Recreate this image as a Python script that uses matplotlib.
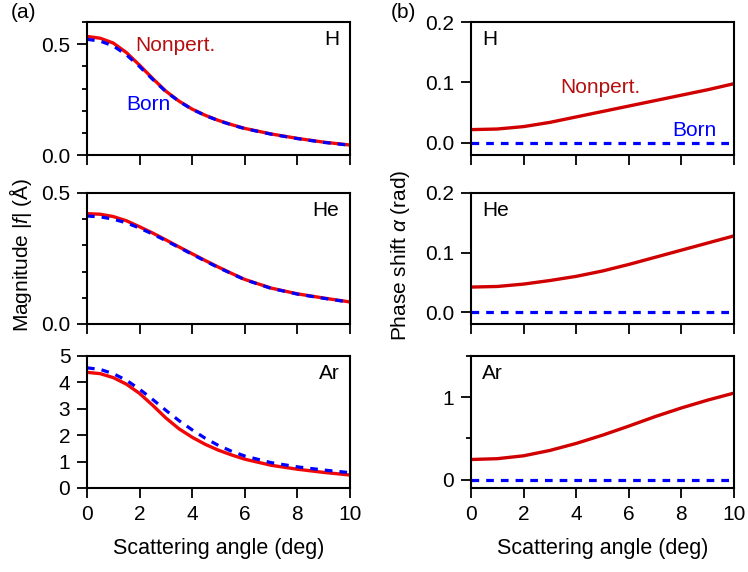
import numpy as np
import matplotlib
matplotlib.use('Agg')
import matplotlib.pyplot as plt
from matplotlib.ticker import MultipleLocator

plt.rcParams['font.family'] = ['Liberation Sans', 'DejaVu Sans']
plt.rcParams['mathtext.fontset'] = 'custom'
plt.rcParams['mathtext.rm'] = 'Liberation Sans'
plt.rcParams['mathtext.it'] = 'Liberation Sans:italic'
plt.rcParams['font.size'] = 15

# scattering angle (deg), finer near the forward peak for the magnitudes
angle_mag = [0, 0.5, 1, 1.5, 2, 2.5, 3, 3.5, 4, 4.5, 5, 5.5, 6, 7, 8, 9, 10]
angle = [0, 1, 2, 3, 4, 5, 6, 7, 8, 9, 10]

# magnitude |f| (Angstrom)
h_mag_nonpert = [0.535, 0.527, 0.505, 0.462, 0.405, 0.345, 0.288, 0.243, 0.207, 0.179, 0.156,
                 0.137, 0.12, 0.095, 0.075, 0.058, 0.045]
h_mag_born = [0.522, 0.514, 0.492, 0.452, 0.399, 0.341, 0.286, 0.242, 0.206, 0.178, 0.155,
              0.136, 0.119, 0.094, 0.074, 0.057, 0.044]
he_mag_nonpert = [0.421, 0.419, 0.41, 0.394, 0.371, 0.347, 0.321, 0.294, 0.268, 0.242, 0.217,
                  0.193, 0.17, 0.137, 0.115, 0.099, 0.084]
he_mag_born = [0.412, 0.409, 0.4, 0.386, 0.366, 0.343, 0.318, 0.292, 0.266, 0.24, 0.215,
               0.192, 0.169, 0.136, 0.114, 0.098, 0.083]
ar_mag_nonpert = [4.38, 4.33, 4.18, 3.93, 3.58, 3.13, 2.65, 2.24, 1.92, 1.65, 1.43,
                  1.25, 1.09, 0.86, 0.71, 0.59, 0.49]
ar_mag_born = [4.55, 4.49, 4.33, 4.08, 3.74, 3.35, 2.94, 2.55, 2.2, 1.88, 1.61,
               1.39, 1.21, 0.96, 0.8, 0.68, 0.58]

# phase shift alpha (rad); Born phase is zero
h_phase = [0.022, 0.023, 0.027, 0.034, 0.043, 0.052, 0.061, 0.07, 0.079, 0.088, 0.098]
he_phase = [0.042, 0.043, 0.047, 0.053, 0.06, 0.069, 0.08, 0.092, 0.104, 0.116, 0.128]
ar_phase = [0.245, 0.255, 0.29, 0.355, 0.44, 0.54, 0.65, 0.765, 0.87, 0.965, 1.05]
born_phase = [0.0] * len(angle)

atoms = ['H', 'He', 'Ar']
mags = [(h_mag_nonpert, h_mag_born), (he_mag_nonpert, he_mag_born), (ar_mag_nonpert, ar_mag_born)]
phases = [h_phase, he_phase, ar_phase]

mag_ylim = [(0, 0.6), (0, 0.5), (0, 5)]
mag_major = [0.5, 0.5, 1]
mag_minor = [0.1, 0.1, 1]
phase_ylim = [(-0.02, 0.2), (-0.02, 0.2), (-0.1, 1.5)]
phase_major = [0.1, 0.1, 1]
phase_minor = [0.1, 0.1, 0.5]

red_left = '#f00808'
red_right = '#d00000'
text_red = '#b51010'
blue = '#0000ff'
dash = (0, (2.4, 2.2))

fig = plt.figure(figsize=(7.48, 5.72), dpi=100)

rows = [(0.729, 0.2325), (0.4336, 0.229), (0.1469, 0.2308)]
left_x, right_x, width = 0.1163, 0.6297, 0.3516


def style(ax, last):
    ax.set_xlim(0, 10)
    ax.xaxis.set_major_locator(MultipleLocator(2))
    ax.tick_params(which='major', length=7, width=1.3, direction='out', labelsize=15, pad=5)
    ax.tick_params(which='minor', length=3.6, width=1.3, direction='out')
    for s in ax.spines.values():
        s.set_linewidth(1.5)
    if not last:
        ax.tick_params(axis='x', labelbottom=False)
    else:
        ax.set_xlabel('Scattering angle (deg)', fontsize=15.5, labelpad=10)


for i, atom in enumerate(atoms):
    bottom, height = rows[i]
    last = i == 2

    ax = fig.add_axes([left_x, bottom, width, height])
    nonpert, born = mags[i]
    ax.plot(angle_mag, nonpert, color=red_left, lw=2.4)
    ax.plot(angle_mag, born, color=blue, lw=2.3, linestyle=dash)
    ax.set_ylim(*mag_ylim[i])
    ax.yaxis.set_major_locator(MultipleLocator(mag_major[i]))
    ax.yaxis.set_minor_locator(MultipleLocator(mag_minor[i]))
    if mag_major[i] < 1:
        ax.yaxis.set_major_formatter('{x:.1f}')
    style(ax, last)
    ax.text(0.96, 0.87, atom, transform=ax.transAxes, ha='right', va='center', fontsize=15)
    if i == 0:
        ax.text(0.183, 0.827, 'Nonpert.', transform=ax.transAxes, color=text_red,
                ha='left', va='center', fontsize=15)
        ax.text(0.148, 0.383, 'Born', transform=ax.transAxes, color=blue,
                ha='left', va='center', fontsize=15)

    ax = fig.add_axes([right_x, bottom, width, height])
    ax.plot(angle, phases[i], color=red_right, lw=2.4)
    ax.plot(angle, born_phase, color=blue, lw=2.3, linestyle=dash)
    ax.set_ylim(*phase_ylim[i])
    ax.yaxis.set_major_locator(MultipleLocator(phase_major[i]))
    ax.yaxis.set_minor_locator(MultipleLocator(phase_minor[i]))
    if phase_major[i] < 1:
        ax.yaxis.set_major_formatter('{x:.1f}')
    style(ax, last)
    ax.text(0.042, 0.87, atom, transform=ax.transAxes, ha='left', va='center', fontsize=15)
    if i == 0:
        ax.text(0.338, 0.511, 'Nonpert.', transform=ax.transAxes, color=text_red,
                ha='left', va='center', fontsize=15)
        ax.text(0.764, 0.183, 'Born', transform=ax.transAxes, color=blue,
                ha='left', va='center', fontsize=15)

fig.text(0.028, 0.554, r'Magnitude |$\mathit{f}$| (Å)', rotation=90, ha='center', va='center', fontsize=15)
fig.text(0.536, 0.554, r'Phase shift $\mathit{\alpha}$ (rad)', rotation=90, ha='center', va='center', fontsize=15)
fig.text(0.032, 0.979, '(a)', ha='center', va='center', fontsize=15)
fig.text(0.540, 0.979, '(b)', ha='center', va='center', fontsize=15)

fig.savefig('out.png', dpi=100)
